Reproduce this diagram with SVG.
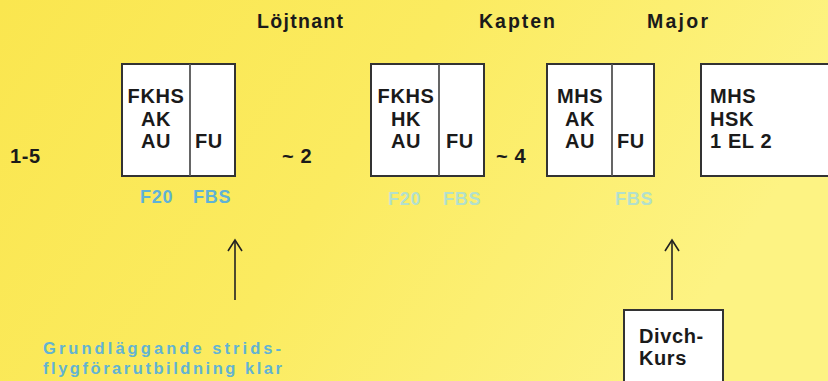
<svg xmlns="http://www.w3.org/2000/svg" width="828" height="381" viewBox="0 0 828 381">
<defs>
<linearGradient id="bg" x1="0" y1="0" x2="1" y2="0.3">
<stop offset="0" stop-color="#fae64f"/>
<stop offset="0.5" stop-color="#fbeb60"/>
<stop offset="1" stop-color="#fdf383"/>
</linearGradient>
<marker id="arr" markerWidth="16" markerHeight="16" refX="13" refY="8" orient="auto" markerUnits="userSpaceOnUse" viewBox="0 0 16 16">
<path d="M2,1 L13,8 L2,15" fill="none" stroke="#222" stroke-width="1.6"/>
</marker>
</defs>
<style>
.box{fill:#fff;stroke:#333;stroke-width:2}
.div{stroke:#555;stroke-width:1.8}
.t{font-family:"Liberation Sans",Arial,sans-serif;font-weight:bold;font-size:20px;fill:#1a1a1a;letter-spacing:0.6px}
.ttl{font-family:"Liberation Sans",Arial,sans-serif;font-weight:bold;font-size:19.5px;fill:#1a1a1a}
.b{font-family:"Liberation Sans",Arial,sans-serif;font-weight:bold;font-size:18px;fill:#5fb2d6;letter-spacing:0.8px}
.faint{fill:#b3e0cc}
.g{font-family:"Liberation Sans",Arial,sans-serif;font-weight:bold;font-size:16.5px;fill:#62b3d3}
.c{stroke:#222;stroke-width:1.6;fill:none}
</style>
<rect width="828" height="381" fill="url(#bg)"/>

<g id="titles">
<text class="ttl" x="257" y="28" textLength="86" lengthAdjust="spacing">Löjtnant</text>
<text class="ttl" x="479" y="28" textLength="76" lengthAdjust="spacing">Kapten</text>
<text class="ttl" x="647" y="28" textLength="61" lengthAdjust="spacing">Major</text>
</g>

<g id="labels">
<text class="t" x="10" y="163">1-5</text>
<text class="t" x="282" y="163">~ 2</text>
<text class="t" x="496" y="163">~ 4</text>
</g>

<g id="box1">
<rect class="box" x="122" y="64" width="113" height="112"/>
<line class="div" x1="190" y1="64" x2="190" y2="176"/>
<text class="t" x="156" y="103" text-anchor="middle">FKHS</text>
<text class="t" x="156" y="126" text-anchor="middle">AK</text>
<text class="t" x="156" y="148" text-anchor="middle">AU</text>
<text class="t" x="195" y="148">FU</text>
<text class="b" x="140" y="203">F20</text>
<text class="b" x="193" y="203">FBS</text>
</g>

<g id="box2">
<rect class="box" x="371" y="64" width="113" height="112"/>
<line class="div" x1="439" y1="64" x2="439" y2="176"/>
<text class="t" x="406" y="103" text-anchor="middle">FKHS</text>
<text class="t" x="406" y="126" text-anchor="middle">HK</text>
<text class="t" x="406" y="148" text-anchor="middle">AU</text>
<text class="t" x="446" y="148">FU</text>
<text class="b faint" x="388" y="205">F20</text>
<text class="b faint" x="443" y="205">FBS</text>
</g>

<g id="box3">
<rect class="box" x="547" y="64" width="107" height="112"/>
<line class="div" x1="612" y1="64" x2="612" y2="176"/>
<text class="t" x="580" y="103" text-anchor="middle">MHS</text>
<text class="t" x="580" y="126" text-anchor="middle">AK</text>
<text class="t" x="580" y="148" text-anchor="middle">AU</text>
<text class="t" x="617" y="148">FU</text>
<text class="b faint" x="615" y="205">FBS</text>
</g>

<g id="box4">
<rect class="box" x="701" y="64" width="140" height="112"/>
<text class="t" x="710" y="103">MHS</text>
<text class="t" x="710" y="126">HSK</text>
<text class="t" x="710" y="148">1 EL 2</text>
</g>

<g id="divch">
<rect class="box" x="624" y="310" width="99" height="80"/>
<text class="t" x="639" y="343">Divch-</text>
<text class="t" x="639" y="365">Kurs</text>
</g>

<g id="note">
<text class="g" x="43" y="354" textLength="238" lengthAdjust="spacing">Grundläggande strids-</text>
<text class="g" x="43" y="374" textLength="239" lengthAdjust="spacing">flygförarutbildning klar</text>
</g>

<g id="connectors">
<line class="c" x1="235" y1="300" x2="235" y2="240" marker-end="url(#arr)"/>
<line class="c" x1="672" y1="300" x2="672" y2="240" marker-end="url(#arr)"/>
</g>
</svg>
